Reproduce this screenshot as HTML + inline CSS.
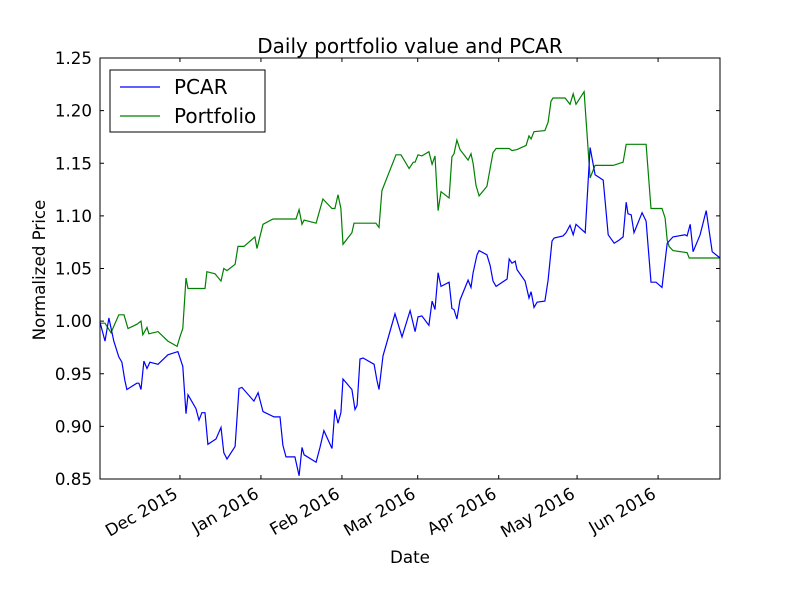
<!DOCTYPE html>
<html><head><meta charset="utf-8"><style>
body{margin:0;background:#fff;}
svg{font-family:"DejaVu Sans","Liberation Sans",sans-serif;}
</style></head><body>
<svg id="chart" width="800" height="600" xmlns="http://www.w3.org/2000/svg">
<rect width="800" height="600" fill="#fff"/>
<text x="410" y="53" font-size="20" text-anchor="middle">Daily portfolio value and PCAR</text>
<text x="410" y="563" font-size="16.7" text-anchor="middle">Date</text>
<text transform="translate(45,270) rotate(-90)" font-size="16.7" text-anchor="middle">Normalized Price</text>
<g id="plot"></g>
</svg>
<script>
const pcarDays=[-30.6,-28.7,-27.2,-25.3,-23.4,-22.2,-21.1,-20.3,-16.5,-15.7,-14.9,-13.8,-12.6,-11.5,-8.4,-4.6,-0.8,1.1,2.3,3.1,6.1,7.3,8.4,9.6,10.7,13.8,15.7,16.8,18.0,21.1,22.6,23.7,28.3,29.9,31.8,36.0,38.3,39.4,40.6,44.0,45.6,46.7,47.5,52.1,53.6,55.1,58.2,59.3,60.5,61.6,62.4,65.8,67.0,67.8,68.9,70.1,74.3,75.4,76.2,77.7,82.3,85.0,88.1,90.0,91.1,92.6,95.3,96.5,97.6,98.8,99.9,103.0,104.1,104.9,106.0,107.2,110.3,111.4,112.2,113.7,114.5,117.5,118.7,119.8,121.0,125.2,126.0,127.1,128.3,129.0,132.1,133.6,134.4,135.5,136.7,139.7,140.9,142.4,143.2,146.6,147.8,149.3,150.5,151.6,155.1,157.0,158.9,162.0,163.9,166.2,168.1,169.6,170.8,171.5,172.7,173.8,176.9,178.4,180.3,182.2,184.5,186.5,187.2,188.7,193.3,194.1,195.3,196.4,199.1,201.4,203.7,206.7];
const pcarValues=[0.999,0.981,1.003,0.981,0.966,0.961,0.944,0.935,0.941,0.941,0.935,0.962,0.955,0.961,0.959,0.968,0.971,0.957,0.912,0.930,0.917,0.906,0.913,0.913,0.883,0.888,0.899,0.875,0.869,0.881,0.936,0.937,0.924,0.932,0.914,0.909,0.909,0.882,0.871,0.871,0.853,0.880,0.873,0.866,0.880,0.896,0.879,0.916,0.903,0.913,0.945,0.935,0.916,0.920,0.964,0.965,0.959,0.944,0.935,0.967,1.007,0.985,1.010,0.990,1.004,1.005,0.996,1.019,1.011,1.046,1.033,1.037,1.012,1.011,1.002,1.020,1.039,1.032,1.046,1.063,1.067,1.063,1.053,1.038,1.033,1.040,1.059,1.055,1.057,1.049,1.038,1.022,1.028,1.013,1.018,1.019,1.039,1.076,1.079,1.081,1.084,1.091,1.082,1.092,1.084,1.165,1.139,1.134,1.082,1.074,1.077,1.080,1.113,1.102,1.101,1.084,1.103,1.095,1.037,1.037,1.032,1.074,1.076,1.080,1.082,1.081,1.092,1.066,1.082,1.105,1.066,1.060];
const portDays=[-30.6,-28.7,-26.4,-23.4,-21.4,-19.9,-16.5,-14.9,-14.2,-12.6,-11.9,-8.4,-4.6,-1.1,0,1.1,2.3,3.1,9.6,10.3,13.4,15.7,16.8,18.0,21.1,22.2,24.5,28.7,29.5,31.8,35.6,44.4,45.6,46.7,47.5,52.1,54.7,58.2,59.3,60.5,61.6,62.4,65.8,66.6,75.0,76.2,77.3,82.7,84.6,87.7,89.3,90.0,91.1,92.6,95.3,96.5,97.6,98.8,99.9,103.0,104.1,104.9,106.0,107.2,110.3,111.4,112.2,113.3,114.5,117.5,119.8,121.0,126.0,127.1,129.0,132.5,133.6,134.4,135.5,139.7,140.9,142.0,142.8,147.4,149.3,150.5,151.6,154.7,157.0,158.9,165.8,169.6,170.8,178.4,180.3,184.5,185.7,186.5,187.2,188.7,194.1,194.9,206.7];
const portValues=[0.998,0.998,0.989,1.006,1.006,0.993,0.997,1.000,0.987,0.994,0.988,0.990,0.981,0.976,0.985,0.993,1.041,1.031,1.031,1.047,1.045,1.038,1.050,1.048,1.054,1.071,1.071,1.080,1.069,1.092,1.097,1.097,1.106,1.092,1.096,1.093,1.116,1.107,1.107,1.120,1.107,1.073,1.084,1.093,1.093,1.089,1.124,1.158,1.158,1.145,1.151,1.151,1.158,1.157,1.161,1.149,1.157,1.105,1.123,1.117,1.156,1.159,1.172,1.163,1.153,1.159,1.150,1.129,1.119,1.128,1.160,1.164,1.164,1.162,1.163,1.167,1.176,1.173,1.180,1.181,1.189,1.209,1.212,1.212,1.206,1.216,1.206,1.218,1.136,1.148,1.148,1.151,1.168,1.168,1.107,1.107,1.098,1.077,1.071,1.067,1.065,1.060,1.060];
const yTicks=[0.85,0.90,0.95,1.00,1.05,1.10,1.15,1.20,1.25];
const xTickDays=[0,31,62,91,122,152,183];
const xTickLabels=["Dec 2015","Jan 2016","Feb 2016","Mar 2016","Apr 2016","May 2016","Jun 2016"];
const X0=100,X1=720,Y0=58,Y1=479,DMIN=-30.6,DMAX=206.7,VMIN=0.85,VMAX=1.25;
function xs(d){return X0+(d-DMIN)/(DMAX-DMIN)*(X1-X0);}
function ys(v){return Y1-(v-VMIN)/(VMAX-VMIN)*(Y1-Y0);}
const NS="http://www.w3.org/2000/svg";
const g=document.getElementById('plot');
function mk(t,a){const e=document.createElementNS(NS,t);for(const k in a)e.setAttribute(k,a[k]);g.appendChild(e);return e;}
function line(days,vals,color,name){
  const p=mk('polyline',{points:days.map((d,i)=>xs(d).toFixed(1)+','+ys(vals[i]).toFixed(1)).join(' '),fill:'none',stroke:color,'stroke-width':1.2});
  
  
}
line(portDays,portValues,'#008000','portfolio-line');
line(pcarDays,pcarValues,'#0000ff','pcar-line');
const fr=mk('rect',{x:X0,y:Y0,width:X1-X0,height:Y1-Y0,fill:'none',stroke:'#000','stroke-width':1});


yTicks.forEach(v=>{
  const y=ys(v);
  mk('line',{x1:X0,x2:X0+4,y1:y,y2:y,stroke:'#000'});
  mk('line',{x1:X1-4,x2:X1,y1:y,y2:y,stroke:'#000'});
  const t=mk('text',{x:X0-8,y:y+6,'font-size':16.7,'text-anchor':'end'});
  t.textContent=v.toFixed(2);
  
  
});
xTickDays.forEach((d,i)=>{
  const x=xs(d);
  mk('line',{x1:x,x2:x,y1:Y1-4,y2:Y1,stroke:'#000'});
  mk('line',{x1:x,x2:x,y1:Y0,y2:Y0+4,stroke:'#000'});
  const t=mk('text',{transform:`translate(${x-1},${Y1+18}) rotate(-30)`,'font-size':16.7,'text-anchor':'end'});
  t.textContent=xTickLabels[i];
  
  
});
const lg=mk('rect',{x:110,y:70,width:155,height:62,fill:'#fff',stroke:'#000'});


[['PCAR','#0000ff',87],['Portfolio','#008000',116]].forEach(([n,c,y])=>{
  mk('line',{x1:120,x2:160,y1:y,y2:y,stroke:c,'stroke-width':1.2});
  const t=mk('text',{x:174,y:y+7,'font-size':20});
  t.textContent=n;
  
  
});
</script>
</body></html>
